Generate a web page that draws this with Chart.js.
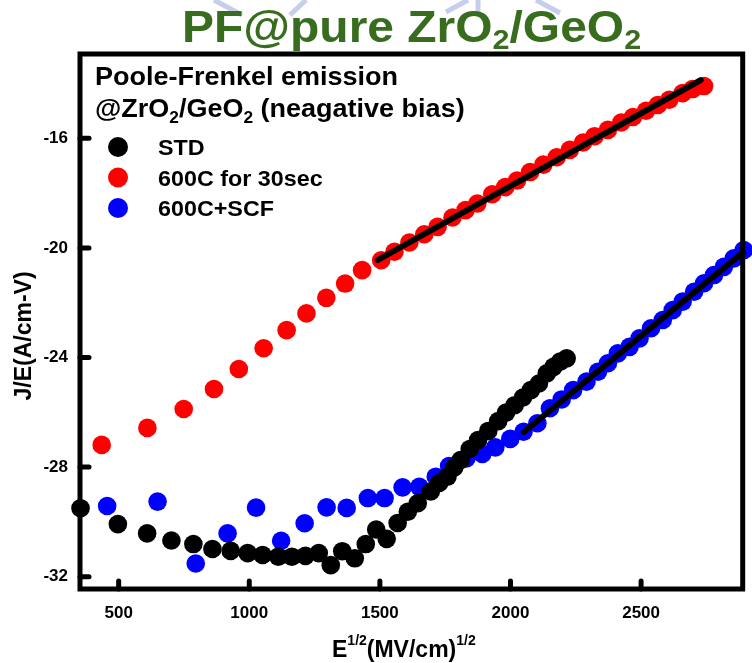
<!DOCTYPE html>
<html>
<head>
<meta charset="utf-8">
<script src="https://cdn.jsdelivr.net/npm/chart.js@4.4.1/dist/chart.umd.min.js"></script>
<style>
  html, body { margin: 0; padding: 0; background: #ffffff; }
  #wrap { position: relative; width: 752px; height: 663px; }
</style>
</head>
<body>
<div id="wrap"><canvas id="c" width="752" height="663"></canvas></div>
<script>
// Poole-Frenkel plot: ln(J/E) versus sqrt(E) for three ZrO2/GeO2 stacks

const seriesLabels = ['STD', '600C for 30sec', '600C+SCF'];
const seriesColors = ['#000000', '#ff0000', '#0000ff'];

// STD
const stdX = [354, 497, 609, 702, 786, 859, 929, 994, 1051, 1111, 1163, 1215, 1266, 1312, 1356, 1404, 1446, 1486, 1526, 1568,
              1607, 1645, 1695, 1727, 1759, 1785, 1809, 1844, 1876, 1915, 1953, 1983, 2016, 2048, 2078, 2109, 2139, 2165, 2190, 2215];
const stdY = [-29.50, -30.08, -30.42, -30.68, -30.81, -30.99, -31.06, -31.14, -31.21, -31.27, -31.27, -31.24, -31.14, -31.58, -31.07, -31.33, -30.81, -30.28, -30.62, -30.04,
              -29.63, -29.32, -28.89, -28.58, -28.35, -28.01, -27.74, -27.34, -27.01, -26.68, -26.32, -26.01, -25.74, -25.46, -25.19, -24.95, -24.58, -24.34, -24.15, -24.03];

// 600C for 30sec
const rtaX = [435, 610, 749, 865, 960, 1055, 1143, 1219, 1295, 1367, 1432, 1505, 1556, 1613, 1670, 1721, 1778, 1828, 1873, 1930,
              1980, 2025, 2075, 2126, 2177, 2227, 2278, 2322, 2373, 2424, 2469, 2519, 2564, 2608, 2659, 2697, 2741];
const rtaY = [-27.19, -26.57, -25.88, -25.15, -24.42, -23.66, -23.00, -22.39, -21.82, -21.30, -20.81, -20.45, -20.14, -19.80, -19.50, -19.23, -18.89, -18.62, -18.38, -18.04,
              -17.78, -17.54, -17.23, -16.96, -16.69, -16.42, -16.15, -15.92, -15.69, -15.42, -15.22, -14.99, -14.78, -14.59, -14.35, -14.20, -14.09];

// 600C+SCF
const scfX = [456, 649, 795, 917, 1026, 1122, 1212, 1296, 1373, 1454, 1518, 1587, 1651, 1714, 1765, 1831, 1892, 1942, 1999, 2050,
              2103, 2151, 2196, 2240, 2291, 2335, 2373, 2411, 2456, 2494, 2538, 2583, 2621, 2659, 2703, 2741, 2779, 2817, 2855, 2893];
const scfY = [-29.42, -29.26, -31.52, -30.42, -29.48, -30.69, -30.05, -29.47, -29.49, -29.13, -29.13, -28.74, -28.72, -28.35, -27.96, -27.68, -27.52, -27.28, -26.97, -26.71,
              -26.40, -25.85, -25.53, -25.19, -24.88, -24.52, -24.21, -23.85, -23.61, -23.30, -22.93, -22.63, -22.27, -21.96, -21.60, -21.29, -20.99, -20.69, -20.38, -20.08];

// linear fits over the Poole-Frenkel regions
const stdFitX = [1655, 2050];
const stdFitY = [-29.12, -25.38];
const rtaFitX = [1492, 2728];
const rtaFitY = [-20.44, -13.87];
const scfFitX = [2051, 2890];
const scfFitY = [-26.72, -20.16];

const xTicks = [500, 1000, 1500, 2000, 2500];
const yTicks = [-32, -28, -24, -20, -16];

const FAMILY = '"Liberation Sans", Arial, Helvetica, sans-serif';
const bold = s => 'bold ' + s + 'px ' + FAMILY;

function pts(xs, ys) { return xs.map((x, i) => ({ x: x, y: ys[i] })); }

function richWidth(ctx, segs) {
  let w = 0;
  for (const s of segs) { ctx.font = bold(s.size); w += ctx.measureText(s.t).width; }
  return w;
}
function drawRich(ctx, x, y, segs, opt) {
  ctx.save();
  ctx.translate(x, y);
  if (opt.rotate) ctx.rotate(opt.rotate);
  ctx.scale(opt.hscale || 1, 1);
  ctx.fillStyle = opt.color || '#000';
  ctx.textAlign = 'left';
  ctx.textBaseline = 'alphabetic';
  const w = richWidth(ctx, segs);
  let cx = opt.align === 'center' ? -w / 2 : 0;
  for (const s of segs) {
    ctx.font = bold(s.size);
    ctx.fillText(s.t, cx, s.dy || 0);
    cx += ctx.measureText(s.t).width;
  }
  ctx.restore();
}

// faint emblem strokes along the top edge of the page
function drawEmblem(ctx) {
  ctx.save();
  ctx.strokeStyle = 'rgba(150,165,220,0.55)';
  ctx.lineWidth = 5;
  ctx.lineCap = 'butt';
  const strokes = [
    [[214, 0], [242, 15]],
    [[290, 15], [306, 0]],
    [[446, 12], [468, 0]],
    [[478, 0], [478, 12]],
    [[536, 0], [560, 13]]
  ];
  for (const s of strokes) {
    ctx.beginPath(); ctx.moveTo(s[0][0], s[0][1]); ctx.lineTo(s[1][0], s[1][1]); ctx.stroke();
  }
  ctx.restore();
}

const decor = {
  id: 'decor',
  beforeDraw(chart) {
    drawEmblem(chart.ctx);
  },
  afterDraw(chart) {
    const ctx = chart.ctx;
    const a = chart.chartArea;
    const xs = chart.scales.x, ys = chart.scales.y;

    // frame
    ctx.save();
    ctx.strokeStyle = '#000';
    ctx.lineWidth = 5;
    ctx.lineJoin = 'miter';
    ctx.strokeRect(a.left, a.top, a.right - a.left, a.bottom - a.top);
    // inward tick marks
    ctx.lineCap = 'round';
    ctx.lineWidth = 5;
    for (const v of yTicks) {
      const py = ys.getPixelForValue(v);
      ctx.beginPath(); ctx.moveTo(a.left, py); ctx.lineTo(a.left + 9, py); ctx.stroke();
    }
    for (const v of xTicks) {
      const px = xs.getPixelForValue(v);
      ctx.beginPath(); ctx.moveTo(px, a.bottom); ctx.lineTo(px, a.bottom - 8); ctx.stroke();
    }
    ctx.restore();

    // chart title
    drawRich(ctx, 182, 42, [
      { t: 'PF@pure ZrO', size: 44 }, { t: '2', size: 28, dy: 7 },
      { t: '/GeO', size: 44 }, { t: '2', size: 28, dy: 7 }
    ], { color: '#386c1e', hscale: 1.09 });

    // annotation inside the plot
    drawRich(ctx, 95, 85, [{ t: 'Poole-Frenkel emission', size: 25 }], { hscale: 1.08 });
    drawRich(ctx, 95, 117, [
      { t: '@ZrO', size: 25 }, { t: '2', size: 16, dy: 6 },
      { t: '/GeO', size: 25 }, { t: '2', size: 16, dy: 6 },
      { t: ' (neagative bias)', size: 25 }
    ], { hscale: 1.08 });

    // legend
    const rows = [147, 177.5, 208];
    seriesLabels.forEach((lab, i) => {
      ctx.save();
      ctx.fillStyle = seriesColors[i];
      ctx.beginPath(); ctx.arc(118, rows[i], 10, 0, Math.PI * 2); ctx.fill();
      ctx.restore();
      drawRich(ctx, 158, rows[i] + 8, [{ t: lab, size: 22 }], { hscale: 1.06 });
    });

    // axis titles
    drawRich(ctx, 332, 657, [
      { t: 'E', size: 23 }, { t: '1/2', size: 14, dy: -12 },
      { t: '(MV/cm)', size: 23 }, { t: '1/2', size: 14, dy: -12 }
    ], {});
    drawRich(ctx, 31, 336, [{ t: 'J/E(A/cm-V)', size: 23 }], { rotate: -Math.PI / 2, align: 'center' });
  }
};

const dotStyle = (i) => ({
  backgroundColor: seriesColors[i], borderColor: seriesColors[i], borderWidth: 0,
  pointRadius: 9.3, pointHoverRadius: 9.3, showLine: false, clip: false
});
const fitStyle = {
  borderColor: '#000000', backgroundColor: '#000000', borderWidth: 6, borderCapStyle: 'round',
  pointRadius: 0, pointHoverRadius: 0, showLine: true, clip: false, order: 0
};

new Chart(document.getElementById('c'), {
  type: 'scatter',
  data: {
    datasets: [
      Object.assign({ label: 'STD fit', data: pts(stdFitX, stdFitY) }, fitStyle),
      Object.assign({ label: '600C for 30sec fit', data: pts(rtaFitX, rtaFitY) }, fitStyle),
      Object.assign({ label: '600C+SCF fit', data: pts(scfFitX, scfFitY) }, fitStyle),
      Object.assign({ label: seriesLabels[0], data: pts(stdX, stdY), order: 1 }, dotStyle(0)),
      Object.assign({ label: seriesLabels[1], data: pts(rtaX, rtaY), order: 2 }, dotStyle(1)),
      Object.assign({ label: seriesLabels[2], data: pts(scfX, scfY), order: 3 }, dotStyle(2))
    ]
  },
  options: {
    responsive: false,
    animation: false,
    devicePixelRatio: 1,
    layout: { padding: { top: 54, right: 4.5, left: 0, bottom: 0 } },
    plugins: { legend: { display: false }, tooltip: { enabled: false }, title: { display: false } },
    scales: {
      x: {
        type: 'linear', min: 352, max: 2889,
        grid: { display: false, drawTicks: false },
        border: { display: false },
        afterBuildTicks: s => { s.ticks = xTicks.map(v => ({ value: v })); },
        afterFit: s => { s.height = 74; },
        ticks: { color: '#000', font: { family: FAMILY, size: 17, weight: 'bold' }, padding: 14, maxRotation: 0, callback: v => String(v) }
      },
      y: {
        type: 'linear', min: -32.45, max: -12.92,
        grid: { display: false, drawTicks: false },
        border: { display: false },
        afterBuildTicks: s => { s.ticks = yTicks.map(v => ({ value: v })); },
        afterFit: s => { s.width = 80; },
        ticks: { color: '#000', font: { family: FAMILY, size: 17, weight: 'bold' }, padding: 12, callback: v => String(v) }
      }
    }
  },
  plugins: [decor]
});
</script>
</body>
</html>
